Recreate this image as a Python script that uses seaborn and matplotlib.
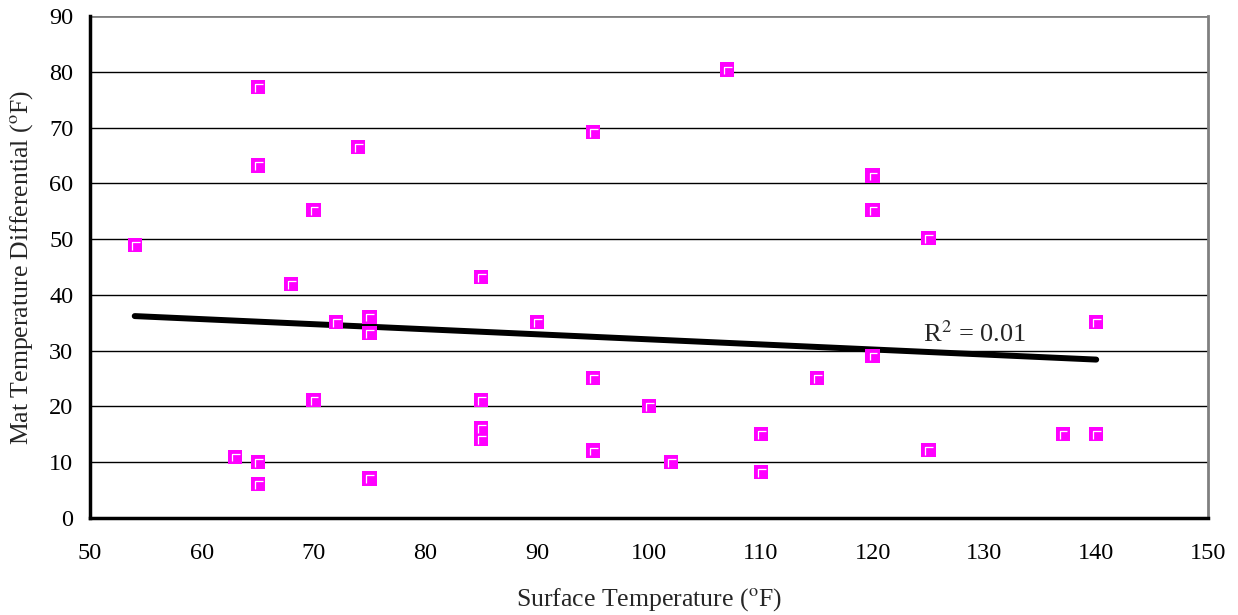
import numpy as np
import pandas as pd
import matplotlib
matplotlib.use("Agg")
import matplotlib.pyplot as plt
import seaborn as sns
from matplotlib.path import Path

surface_temp = [54, 63, 65, 65, 65, 65, 68, 70, 70, 72, 74, 75, 75, 75,
                85, 85, 85, 85, 90, 95, 95, 95, 100, 102, 107, 110, 110,
                115, 120, 120, 120, 125, 125, 137, 140, 140]
mat_diff = [49, 11, 77.3, 63.2, 10, 6.1, 42, 55.2, 21.1, 35.1, 66.5, 36.1, 33.2, 7.1,
            43.2, 21.1, 16.1, 14.2, 35.1, 69.2, 25.1, 12.1, 20.1, 10.0, 80.4, 15.1, 8.2,
            25.1, 61.4, 55.2, 29.1, 50.2, 12.2, 15.1, 35.1, 15.1]
trend_x = [54, 140]
trend_y = [36.2, 28.4]
x_ticks = list(range(50, 151, 10))
y_ticks = list(range(0, 91, 10))

df = pd.DataFrame({"x": surface_temp, "y": mat_diff})

sns.set_style("white")
plt.rcParams["font.family"] = ["Liberation Serif", "DejaVu Serif"]

fig = plt.figure(figsize=(12.38, 6.15), dpi=100)
ax = fig.add_axes([90 / 1238, 1 - 518 / 615, (1208 - 90) / 1238, (518 - 16) / 615])

for yt in y_ticks[1:-1]:
    ax.axhline(yt, color="black", lw=1.0, zorder=1)
ax.axhline(90, color="#808080", lw=2.0, zorder=1)

ax.plot(trend_x, trend_y, color="black", lw=4.3, solid_capstyle="round", zorder=2)

sns.scatterplot(data=df, x="x", y="y", ax=ax, marker="s", s=105,
                color="#FF00FF", edgecolor="none", linewidth=0, zorder=3)
corner = [(-0.25, -0.4), (-0.25, 0.25), (0.4, 0.25)]
cpath = Path(corner, [Path.MOVETO, Path.LINETO, Path.LINETO])
ax.scatter(df["x"], df["y"], marker=cpath, s=48, facecolors="none",
           edgecolors="white", linewidths=0.9, zorder=4)

ax.text(124.5, 33.0, r"R$^{2}$ = 0.01", fontsize=19, ha="left", va="center",
        family=["Liberation Serif"], math_fontfamily="stix")

ax.set_xlim(50, 150)
ax.set_ylim(0, 90)
ax.set_xticks(x_ticks)
ax.set_yticks(y_ticks)
ax.tick_params(axis="both", direction="out", length=6, width=1.5, labelsize=17.5,
               colors="black", pad=6)
ax.tick_params(axis="x", pad=12)

for s in ["left", "bottom"]:
    ax.spines[s].set_color("black")
    ax.spines[s].set_linewidth(2.5)
ax.spines["right"].set_color("#808080")
ax.spines["right"].set_linewidth(2)
ax.spines["top"].set_visible(False)

ax.set_xlabel("Surface Temperature ($^{\\mathrm{o}}$F)", fontsize=18.5, labelpad=16)
ax.set_ylabel("Mat Temperature Differential ($^{\\mathrm{o}}$F)", fontsize=18.5, labelpad=10)
ax.xaxis.label.set_math_fontfamily("stix")
ax.yaxis.label.set_math_fontfamily("stix")

fig.savefig("out.png", dpi=100)
